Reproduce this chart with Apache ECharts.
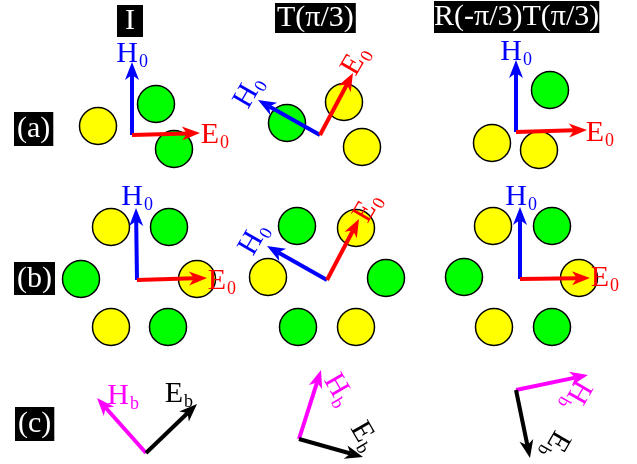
<!DOCTYPE html>
<html><head><meta charset="utf-8">
<script src="https://cdn.jsdelivr.net/npm/echarts@6/dist/echarts.min.js"></script>
<style>html,body{margin:0;padding:0;background:#fff}#c{width:637px;height:464px}</style>
</head><body><div id="c"></div>
<script>
// ---- data (diagram units: x 0..637, y 0..464 downward) ----
const columnTitles = ['I', 'T(\u03c0/3)', 'R(-\u03c0/3)T(\u03c0/3)'];
const rowLabels = ['(a)', '(b)', '(c)'];

const yellowCircles = [[98,126],[344,102],[362,147],[492,143],[539,150],
  [111,227],[197,279],[111,327],[356,228],[268,277],[356,327],[493,226],[579,278],[494,327]];
const greenCircles = [[156,104],[174,149],[287,123],[550,90],
  [169,227],[81,279],[168,327],[297,226],[386,278],[298,327],[552,226],[464,277],[552,327]];

// arrows: [x0, y0, x1, y1]
const h0Arrows = [[132,135,132,62],[320,135,258,100],[516,132,516,60],
  [137,280,136,208],[327,280,267,246],[520,279,520,207]];
const e0Arrows = [[132,135,200,133],[320,135,353,73],[516,132,587,130],
  [137,280,207,278],[327,280,359,219],[520,279,590,278]];
const hbArrows = [[146,453,97,398],[299,439,321,370],[516,390,588,375]];
const ebArrows = [[146,453,197,404],[299,439,363,457],[516,390,530,458]];

// labels: [x, y, rotation in degrees]  (x, y = centre of the label)
const h0Labels = [[133,57,0],[252,93,60],[517,55,0],[138,200,0],[257,240,60],[522,200,0]];
const e0Labels = [[214,138,0],[358,63,60],[599,136,0],[221,284,0],[370,210,60],[604,281,0]];
const hbLabels = [[124,399,0],[336,392,-60],[573,395,-120]];
const ebLabels = [[178,397,0],[361,437,-60],[553,443,-120]];

// ---- rendering ----
const SERIF = '"Liberation Serif", "Times New Roman", serif';
const chart = echarts.init(document.getElementById('c'), null, {renderer: 'canvas'});

function arrowSeries(data, color) {
  return {
    type: 'custom', coordinateSystem: 'cartesian2d', z: 5, silent: true,
    data: data,
    renderItem: function (params, api) {
      const p0 = api.coord([api.value(0), api.value(1)]);
      const p1 = api.coord([api.value(2), api.value(3)]);
      const dx = p1[0] - p0[0], dy = p1[1] - p0[1];
      const len = Math.sqrt(dx * dx + dy * dy);
      const ux = dx / len, uy = dy / len, nx = -uy, ny = ux;
      const L = 18, W = 7, N = 5;
      const bx = p1[0] - ux * L, by = p1[1] - uy * L;
      const mx = p1[0] - ux * (L - N), my = p1[1] - uy * (L - N);
      return {
        type: 'group',
        children: [
          {type: 'line', shape: {x1: p0[0], y1: p0[1], x2: mx, y2: my},
           style: {stroke: color, lineWidth: 4, lineCap: 'butt'}},
          {type: 'polygon', shape: {points: [[p1[0], p1[1]], [bx + nx * W, by + ny * W], [mx, my], [bx - nx * W, by - ny * W]]},
           style: {fill: color}}
        ]
      };
    }
  };
}

function labelSeries(data, main, sub, color) {
  return {
    type: 'custom', coordinateSystem: 'cartesian2d', z: 10, silent: true,
    data: data,
    renderItem: function (params, api) {
      const p = api.coord([api.value(0), api.value(1)]);
      return {
        type: 'group', x: p[0], y: p[1], rotation: api.value(2) * Math.PI / 180,
        children: [
          {type: 'text', x: 5, y: -3,
           style: {text: main, fill: color, font: '30px ' + SERIF, align: 'right', verticalAlign: 'middle'}},
          {type: 'text', x: 6, y: 5,
           style: {text: sub, fill: color, font: '18px ' + SERIF, align: 'left', verticalAlign: 'middle'}}
        ]
      };
    }
  };
}

function circleSeries(data, color) {
  return {
    type: 'scatter', z: 2, silent: true, data: data,
    symbol: 'circle', symbolSize: 37,
    itemStyle: {color: color, borderColor: '#000', borderWidth: 1.5, opacity: 1}
  };
}

const boxStyle = {color: '#fff', fontFamily: SERIF, fontSize: 30, fontWeight: 'normal', lineHeight: 30};
const titles = [
  {text: columnTitles[0], left: 117, top: 5, padding: [1, 8, 1, 8]},
  {text: columnTitles[1], left: 275, top: 3, padding: [0, 2, 0, 2]},
  {text: columnTitles[2], left: 434, top: 1, padding: [1, 0, 1, 0]},
  {text: rowLabels[0], left: 14, top: 112, padding: [2, 3, 2, 3]},
  {text: rowLabels[1], left: 14, top: 262, padding: [2, 3, 1, 3]},
  {text: rowLabels[2], left: 15, top: 407, padding: [2, 3, 2, 3]}
].map(t => Object.assign(t, {backgroundColor: '#000', textStyle: boxStyle}));

chart.setOption({
  animation: false,
  backgroundColor: '#fff',
  title: titles,
  grid: {left: 0, right: 0, top: 0, bottom: 0},
  xAxis: {type: 'value', min: 0, max: 637, show: false},
  yAxis: {type: 'value', min: 0, max: 464, inverse: true, show: false},
  series: [
    circleSeries(yellowCircles, '#ffff00'),
    circleSeries(greenCircles, '#00ff00'),
    arrowSeries(h0Arrows, '#0000ff'),
    arrowSeries(e0Arrows, '#ff0000'),
    arrowSeries(hbArrows, '#ff00ff'),
    arrowSeries(ebArrows, '#000000'),
    labelSeries(h0Labels, 'H', '0', '#0000ff'),
    labelSeries(e0Labels, 'E', '0', '#ff0000'),
    labelSeries(hbLabels, 'H', 'b', '#ff00ff'),
    labelSeries(ebLabels, 'E', 'b', '#000000')
  ]
});
</script></body></html>
